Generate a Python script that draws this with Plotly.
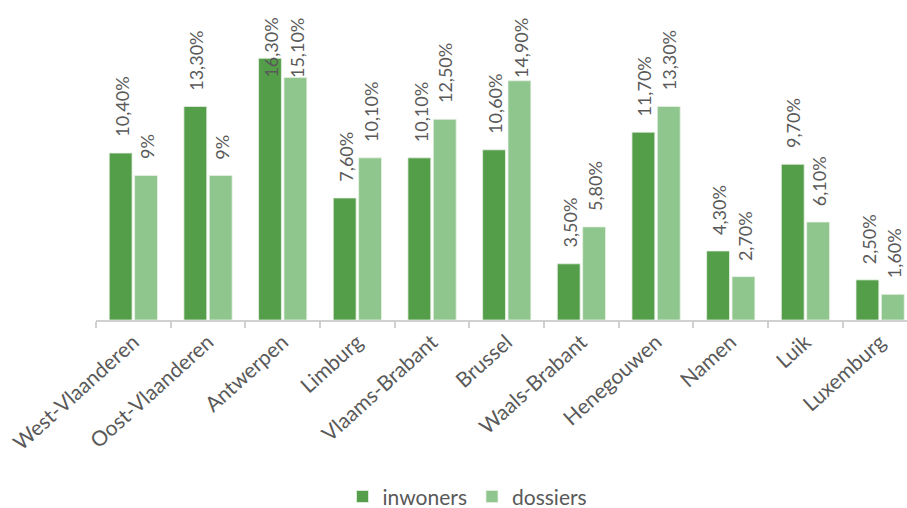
import plotly.graph_objects as go

categories = ["West-Vlaanderen", "Oost-Vlaanderen", "Antwerpen", "Limburg", "Vlaams-Brabant",
              "Brussel", "Waals-Brabant", "Henegouwen", "Namen", "Luik", "Luxemburg"]
inwoners = [10.4, 13.3, 16.3, 7.6, 10.1, 10.6, 3.5, 11.7, 4.3, 9.7, 2.5]
dossiers = [9.0, 9.0, 15.1, 10.1, 12.5, 14.9, 5.8, 13.3, 2.7, 6.1, 1.6]
inwoners_labels = ["10,40%", "13,30%", "16,30%", "7,60%", "10,10%", "10,60%", "3,50%", "11,70%", "4,30%", "9,70%", "2,50%"]
dossiers_labels = ["9%", "9%", "15,10%", "10,10%", "12,50%", "14,90%", "5,80%", "13,30%", "2,70%", "6,10%", "1,60%"]

dark = "#549E49"
light = "#8FC68D"
txt = "#595959"
font_family = "Lato, 'Open Sans', sans-serif"

fig = go.Figure()
fig.add_trace(go.Bar(x=categories, y=inwoners, name="inwoners",
                     marker=dict(color=dark, line=dict(color="#e8f0e6", width=0.8))))
fig.add_trace(go.Bar(x=categories, y=dossiers, name="dossiers",
                     marker=dict(color=light, line=dict(color="#e8f0e6", width=0.8))))

# data labels, rotated, placed above bars (kept inside the chart area at the top like Excel)
label_cap = 14.1
shift_px = 12.7
for vals, labels, xs in ((inwoners, inwoners_labels, -shift_px), (dossiers, dossiers_labels, shift_px)):
    for c, v, t in zip(categories, vals, labels):
        fig.add_annotation(x=c, y=min(v, label_cap), text=t, textangle=-90, showarrow=False,
                           xref="x", yref="y", xanchor="center", yanchor="bottom",
                           xshift=xs + 1, yshift=14,
                           font=dict(size=18, color=txt, family=font_family))

fig.update_layout(
    width=907, height=508,
    margin=dict(l=96, r=0, t=31, b=188, autoexpand=False),
    plot_bgcolor="white", paper_bgcolor="white",
    barmode="group", bargap=0.32, bargroupgap=0.1,
    font=dict(family=font_family, color=txt),
    xaxis=dict(range=[-0.5, 10.36], showline=True, linecolor="#D0D0D0", linewidth=1.5,
               ticks="outside", tickson="boundaries", ticklen=6, tickcolor="#D0D0D0", tickwidth=1.5,
               tickangle=-42, tickfont=dict(size=21, color=txt, family=font_family), showgrid=False,
               automargin=False),
    yaxis=dict(range=[0, 18], visible=False, showgrid=False, automargin=False),
    legend=dict(orientation="h", x=0.304, xanchor="left", yref="container", y=0.022, yanchor="middle",
                font=dict(size=21, color=txt, family=font_family), itemwidth=30, traceorder="normal"),
    showlegend=True,
)

fig.write_html("out.html")
